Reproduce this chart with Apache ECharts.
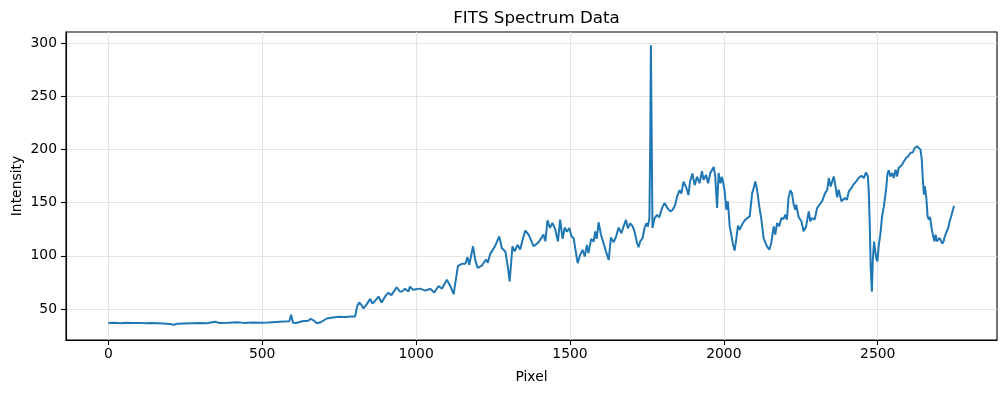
<!DOCTYPE html>
<html>
<head>
<meta charset="utf-8">
<script src="https://cdn.jsdelivr.net/npm/echarts@6/dist/echarts.min.js"></script>
<style>
html,body{margin:0;padding:0;background:#fff;}
#chart{width:1005px;height:393px;}
</style>
</head>
<body>
<div id="chart"></div>
<script>
// Pixel positions (x) and intensity values (y)
var pixelX = [
  0,20,40,60,80,100,120,140,160,180,200,212,225,245,270,300,320,347,360,390,420,440,470,495,520,545,570,588,594,600,610,630,650,658,668,678,690,710,730,750,770,790,802,
  808,815,822,829,840,851,858,868,878,888,900,910,920,937,947,954,964,975,980,990,1000,1013,1030,1046,1059,1073,1084,1100,1111,1122,1127,
  1136,1149,1160,1167,1173,1185,1192,1200,1214,1227,1233,1241,1257,1270,1279,1290,1298,1304,1313,1320,1330,1338,1346,1355,1366,1382,1398,1414,1420,1427,1435,1443,1452,
  1461,1468,1476,1483,1490,1498,1505,1512,1517,1525,1533,1541,1548,1555,1560,1569,1577,1582,1587,1593,1601,1609,1617,1626,1633,1642,1650,1658,1667,1674,1682,1688,1696,1704,1710,1718,1723,1728,1736,1742,1748,1753,1758,
  1761,1763,1765,1768,1775,1783,1790,1799,1807,1817,1826,1834,1842,1848,1856,1862,1869,1877,1885,1890,1898,1905,1913,1921,1929,1934,1942,1949,1956,1967,1972,1978,1983,1989,1994,
  2002,2008,2013,2019,2024,2030,2035,2040,2046,2051,2062,2070,2076,2084,2092,2097,2102,2108,2115,2122,2129,2135,2140,2148,2154,2162,2167,2173,2180,2187,2194,2199,2205,2210,2216,2221,2227,2232,2235,2243,2252,2259,2267,2276,2281,2287,2295,2303,2311,2320,2329,2336,2341,2347,2352,2357,2363,2368,2373,2382,2386,2393,2400,2406,2414,2421,2430,2438,2447,2455,2462,2468,
  2471,2474,2477,2481,2484,2488,2491,2495,2499,2503,2509,2514,2520,2523,2527,2532,2536,2541,2547,2552,2558,2563,2568,2574,2579,2585,2592,2599,2606,2614,2620,2628,2633,2639,2643,2646,2650,2653,2658,2662,2666,2670,2675,2679,2684,2688,2692,2696,2701,2705,2710,2714,2718,2723,2729,2733,2738,2743,2748
];
var intensity = [
  36.8,37.0,36.6,37.0,36.7,36.9,36.5,36.8,36.6,36.4,35.8,35.2,36.0,36.3,36.6,36.8,36.5,38.0,36.9,37.1,37.4,36.9,37.2,37.0,37.3,37.8,38.2,38.4,44.5,37.0,36.8,38.4,39.0,40.8,39.0,36.5,37.5,41.0,42.0,42.7,42.5,43.0,43.0,
  52.0,56.0,54.0,50.5,54.5,59.5,55.0,58.0,61.7,56.0,62.0,65.3,63.0,70.4,66.5,66.3,69.0,66.3,71.0,68.0,68.5,69.1,67.2,69.0,65.4,71.6,69.0,77.4,71.6,64.0,65.0,
  90.5,92.4,92.4,98.7,91.4,108.9,96.4,88.6,90.8,96.5,93.4,101.8,109.3,118.1,107.0,104.0,90.0,75.8,108.9,104.2,110.3,105.8,114.9,123.7,119.6,108.9,112.7,119.9,113.6,133.4,126.2,130.8,125.0,
  113.5,133.9,115.9,126.5,122.7,126.0,118.2,116.6,107.2,93.0,100.8,105.6,99.3,110.3,102.5,115.9,113.4,122.8,115.9,131.5,119.6,111.9,104.0,96.1,117.2,112.8,118.1,126.5,121.2,127.4,133.7,125.9,130.6,127.4,122.7,111.8,108.0,113.4,116.5,125.9,130.6,127.4,135.2,
  213.0,298.0,297.0,126.0,135.4,138.5,136.0,144.8,149.5,144.8,141.7,143.3,148.0,155.7,161.7,158.6,169.6,164.9,157.1,169.6,177.4,166.4,174.3,168.2,179.5,171.4,176.1,168.2,177.8,183.5,174.7,144.9,177.8,168.2,174.2,
  162.2,143.3,151.3,127.6,128.3,110.2,104.9,114.9,128.3,124.5,130.8,134.0,134.0,137.1,158.9,163.6,169.9,162.1,146.4,134.0,116.7,118.3,108.9,105.8,112.0,127.7,119.9,130.8,127.7,135.5,134.6,138.6,134.0,154.3,161.5,159.0,148.0,143.3,148.0,136.5,132.4,123.0,127.1,141.7,132.4,135.5,134.0,144.9,148.0,151.8,158.9,162.1,173.1,165.2,169.9,174.6,165.0,155.0,162.1,151.2,149.6,154.3,152.7,160.5,163.6,166.8,169.9,173.1,175.3,173.1,178.4,174.6,
  158.9,130.6,89.9,66.3,96.4,113.3,115.0,97.8,94.7,108.8,121.3,137.1,146.4,146.4,162.1,177.8,180.3,174.6,177.8,173.1,180.9,174.6,182.5,180.9,185.6,188.8,191.9,193.5,196.6,197.3,201.3,202.9,202.2,199.8,190.4,174.6,157.4,165.2,154.3,137.1,134.0,136.5,126.1,119.9,113.6,119.9,113.6,112.0,116.7,118.3,111.4,113.6,118.3,122.1,126.1,131.5,136.5,141.8,147.1
];
var xTicks = [0, 500, 1000, 1500, 2000, 2500];
var yTicks = [50, 100, 150, 200, 250, 300];

var FONT = 'DejaVu Sans';
function plain(v) { return String(v); }
var chart = echarts.init(document.getElementById('chart'), null, {renderer: 'canvas'});
chart.setOption({
  animation: false,
  backgroundColor: '#ffffff',
  title: {
    text: 'FITS Spectrum Data',
    left: 531.5, top: 5, textAlign: 'center',
    textStyle: {fontFamily: FONT, fontSize: 16.7, fontWeight: 'normal', color: '#000'}
  },
  grid: {left: 66, right: 8, top: 32, bottom: 53, show: true, borderColor: '#000', borderWidth: 1.1,
         containLabel: false, outerBoundsMode: 'none'},
  xAxis: {
    type: 'value', min: -137.5, max: 2887.5,
    name: 'Pixel', nameLocation: 'middle', nameGap: 30, nameMoveOverlap: false,
    nameTextStyle: {fontFamily: FONT, fontSize: 13.9, color: '#000'},
    axisLine: {show: true, onZero: false, lineStyle: {color: '#000', width: 1.1}},
    axisTick: {show: true, inside: false, length: 5, lineStyle: {color: '#000', width: 1.1}, customValues: xTicks},
    axisLabel: {fontFamily: FONT, fontSize: 13.9, color: '#000', margin: 7, customValues: xTicks, formatter: plain},
    splitLine: {show: true, lineStyle: {color: '#e3e3e3', width: 1}}
  },
  yAxis: {
    type: 'value', min: 20.8, max: 310.4,
    name: 'Intensity', nameLocation: 'middle', nameGap: 42, nameMoveOverlap: false,
    nameTextStyle: {fontFamily: FONT, fontSize: 13.9, color: '#000'},
    axisLine: {show: true, onZero: false, lineStyle: {color: '#000', width: 1.1}},
    axisTick: {show: true, inside: false, length: 5, lineStyle: {color: '#000', width: 1.1}, customValues: yTicks},
    axisLabel: {fontFamily: FONT, fontSize: 13.9, color: '#000', margin: 9, customValues: yTicks, formatter: plain},
    splitLine: {show: true, lineStyle: {color: '#e3e3e3', width: 1}}
  },
  series: [{
    type: 'line',
    data: pixelX.map(function (x, i) { return [x, intensity[i]]; }),
    showSymbol: false,
    lineStyle: {color: '#1f77b4', width: 2},
    itemStyle: {color: '#1f77b4'},
    z: 3
  }]
});
</script>
</body>
</html>
